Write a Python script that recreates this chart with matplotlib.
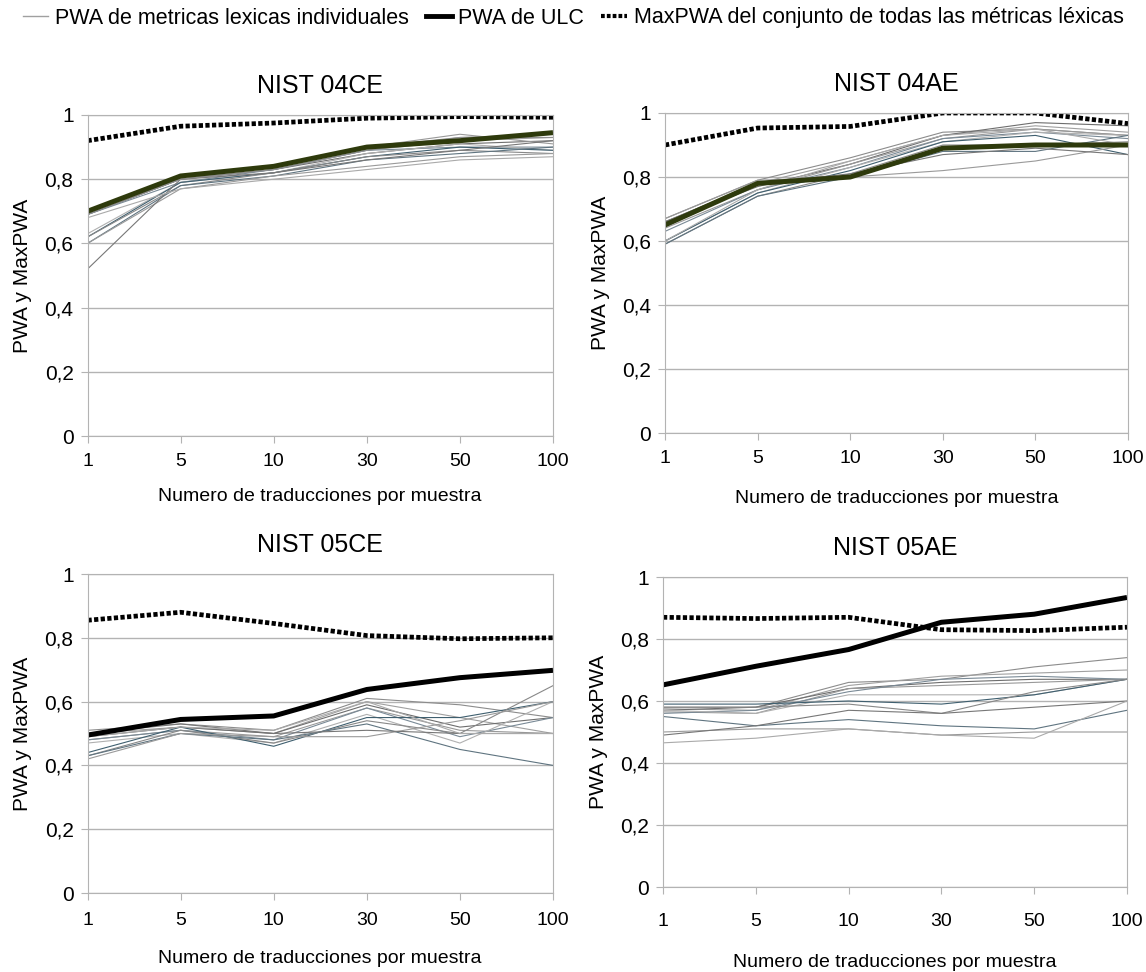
import matplotlib
matplotlib.use("Agg")
from matplotlib import pyplot as plt
from matplotlib.lines import Line2D

plt.rcParams['font.family'] = ['Liberation Sans', 'DejaVu Sans']

categorias = ['1', '5', '10', '30', '50', '100']
y_ticks = [0, 0.2, 0.4, 0.6, 0.8, 1]
y_labels = ['0', '0,2', '0,4', '0,6', '0,8', '1']

# NIST 04CE
ulc_04ce = [0.70, 0.81, 0.84, 0.90, 0.92, 0.945]
max_04ce = [0.92, 0.965, 0.975, 0.99, 0.995, 0.993]
ind_04ce = [
    [0.70, 0.81, 0.84, 0.90, 0.93, 0.94],
    [0.69, 0.80, 0.83, 0.89, 0.92, 0.93],
    [0.69, 0.80, 0.83, 0.88, 0.91, 0.92],
    [0.70, 0.80, 0.84, 0.90, 0.94, 0.91],
    [0.69, 0.79, 0.83, 0.89, 0.90, 0.90],
    [0.63, 0.79, 0.82, 0.88, 0.91, 0.89],
    [0.62, 0.79, 0.82, 0.87, 0.90, 0.89],
    [0.62, 0.78, 0.82, 0.87, 0.89, 0.88],
    [0.60, 0.78, 0.81, 0.86, 0.88, 0.90],
    [0.60, 0.77, 0.81, 0.84, 0.87, 0.88],
    [0.52, 0.80, 0.82, 0.86, 0.89, 0.92],
    [0.68, 0.77, 0.80, 0.83, 0.86, 0.87],
    [0.69, 0.80, 0.83, 0.89, 0.93, 0.93],
]

# NIST 04AE
ulc_04ae = [0.65, 0.78, 0.80, 0.89, 0.90, 0.90]
max_04ae = [0.90, 0.953, 0.958, 1.0, 1.0, 0.967]
ind_04ae = [
    [0.67, 0.79, 0.86, 0.94, 0.95, 0.93],
    [0.66, 0.78, 0.85, 0.93, 0.96, 0.94],
    [0.66, 0.77, 0.84, 0.93, 0.97, 0.96],
    [0.64, 0.76, 0.84, 0.92, 0.95, 0.93],
    [0.63, 0.76, 0.83, 0.92, 0.94, 0.92],
    [0.60, 0.75, 0.83, 0.91, 0.94, 0.93],
    [0.60, 0.75, 0.82, 0.91, 0.93, 0.87],
    [0.59, 0.74, 0.81, 0.90, 0.90, 0.91],
    [0.59, 0.74, 0.80, 0.88, 0.88, 0.93],
    [0.67, 0.79, 0.80, 0.82, 0.85, 0.90],
    [0.66, 0.78, 0.81, 0.87, 0.89, 0.87],
    [0.60, 0.76, 0.85, 0.93, 0.95, 0.90],
]

# NIST 05CE
ulc_05ce = [0.495, 0.544, 0.555, 0.638, 0.675, 0.698]
max_05ce = [0.855, 0.88, 0.845, 0.807, 0.797, 0.80]
ind_05ce = [
    [0.51, 0.53, 0.51, 0.61, 0.59, 0.55],
    [0.50, 0.52, 0.50, 0.60, 0.55, 0.50],
    [0.49, 0.52, 0.50, 0.59, 0.52, 0.55],
    [0.48, 0.51, 0.49, 0.58, 0.51, 0.50],
    [0.48, 0.51, 0.48, 0.58, 0.49, 0.55],
    [0.47, 0.50, 0.47, 0.56, 0.47, 0.60],
    [0.44, 0.52, 0.46, 0.55, 0.55, 0.60],
    [0.43, 0.51, 0.47, 0.54, 0.50, 0.65],
    [0.43, 0.50, 0.48, 0.53, 0.45, 0.40],
    [0.42, 0.50, 0.49, 0.49, 0.54, 0.60],
    [0.50, 0.53, 0.50, 0.51, 0.50, 0.50],
    [0.49, 0.52, 0.51, 0.60, 0.50, 0.50],
]

# NIST 05AE
ulc_05ae = [0.652, 0.712, 0.766, 0.854, 0.88, 0.934]
max_05ae = [0.87, 0.866, 0.87, 0.83, 0.827, 0.838]
ind_05ae = [
    [0.58, 0.58, 0.66, 0.67, 0.71, 0.74],
    [0.575, 0.57, 0.65, 0.68, 0.69, 0.70],
    [0.57, 0.58, 0.64, 0.66, 0.67, 0.67],
    [0.565, 0.56, 0.64, 0.65, 0.66, 0.67],
    [0.56, 0.57, 0.63, 0.67, 0.68, 0.67],
    [0.57, 0.56, 0.62, 0.62, 0.62, 0.67],
    [0.59, 0.59, 0.60, 0.59, 0.62, 0.67],
    [0.58, 0.58, 0.59, 0.56, 0.63, 0.67],
    [0.55, 0.52, 0.54, 0.52, 0.51, 0.57],
    [0.50, 0.51, 0.51, 0.49, 0.50, 0.50],
    [0.49, 0.52, 0.57, 0.56, 0.58, 0.60],
    [0.465, 0.48, 0.51, 0.49, 0.48, 0.60],
]

colores_ind = ['#8c8c8c', '#a0a0a0', '#6e6e6e', '#999999', '#7a8a96', '#b0b0b0',
               '#3f5f6f', '#888888', '#5f7480', '#9a9a9a', '#777777', '#aaaaaa', '#909090']

# titulo, lineas, ULC, MaxPWA, color ULC, caja en pixeles, pad ticks x, pad xlabel
paneles = [
    ("NIST 04CE", ind_04ce, ulc_04ce, max_04ce, '#2e3a0c', [87.5, 115, 553, 436], 7.5, 13),
    ("NIST 04AE", ind_04ae, ulc_04ae, max_04ae, '#2e3a0c', [665, 113, 1128, 433], 7.5, 16),
    ("NIST 05CE", ind_05ce, ulc_05ce, max_05ce, 'black', [87.5, 574, 553, 893], 9, 14.5),
    ("NIST 05AE", ind_05ae, ulc_05ae, max_05ae, 'black', [663, 577, 1127, 887], 14, 17),
]

W, H = 1146, 972
fig = plt.figure(figsize=(W / 100, H / 100), dpi=100)
xs = list(range(len(categorias)))

for titulo, ind, ulc, mx, color_ulc, (x0, y0, x1, y1), pad_x, pad_lab in paneles:
    ax = fig.add_axes([x0 / W, 1 - y1 / H, (x1 - x0) / W, (y1 - y0) / H])
    for i, serie in enumerate(ind):
        ax.plot(xs, serie, color=colores_ind[i % len(colores_ind)], linewidth=0.8)
    ax.plot(xs, ulc, color=color_ulc, linewidth=3.6, solid_capstyle='butt')
    ax.plot(xs, mx, color='black', linewidth=3.4, linestyle=(0, (0.9, 0.5)))
    ax.set_xlim(0, len(categorias) - 1)
    ax.set_ylim(0, 1)
    ax.set_xticks(xs)
    ax.set_xticklabels(categorias, fontsize=14)
    ax.set_yticks(y_ticks)
    ax.set_yticklabels(y_labels, fontsize=15)
    ax.tick_params(axis='both', length=5, color='#b3b3b3')
    ax.tick_params(axis='x', pad=pad_x)
    ax.tick_params(axis='y', pad=5)
    ax.grid(True, axis='y', color='#b3b3b3', linewidth=1)
    ax.set_axisbelow(True)
    for s in ax.spines.values():
        s.set_color('#b3b3b3')
    ax.set_title(titulo, fontsize=18, pad=16)
    ax.set_xlabel("Numero de traducciones por muestra", fontsize=14, labelpad=pad_lab)
    ax.set_ylabel("PWA y MaxPWA", fontsize=15, labelpad=9)

handles = [
    Line2D([], [], color='#a0a0a0', linewidth=1),
    Line2D([], [], color='black', linewidth=3.5),
    Line2D([], [], color='black', linewidth=3, linestyle=(0, (0.9, 0.5))),
]
etiquetas = ["PWA de metricas lexicas individuales", "PWA de ULC",
             "MaxPWA del conjunto de todas las métricas léxicas"]
fig.legend(handles, etiquetas, loc='center', bbox_to_anchor=(0.5, 1 - 18 / H), ncol=3,
           frameon=False, fontsize=15.5, handlelength=1.2, handletextpad=0.3, columnspacing=0.8)

plt.savefig("out.png", dpi=100)
